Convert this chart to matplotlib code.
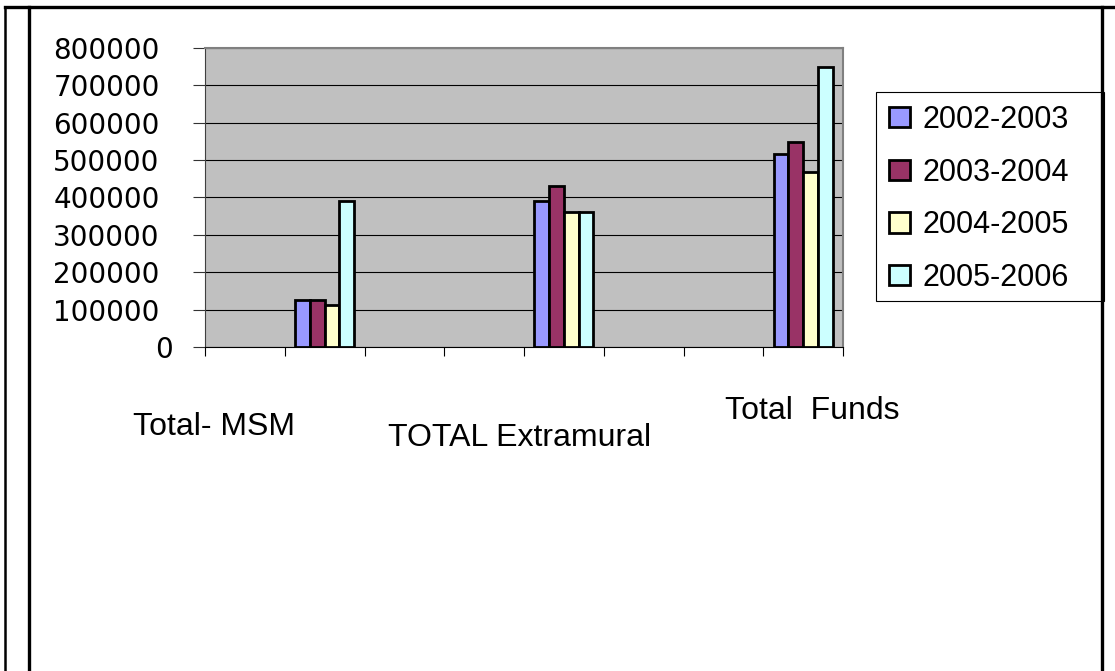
import numpy as np
import matplotlib
matplotlib.use("Agg")
import matplotlib.pyplot as plt
from matplotlib import transforms
from matplotlib.patches import Rectangle, Patch
from matplotlib.lines import Line2D

# ---- data ----
categories = ["Total- MSM", "TOTAL Extramural", "Total  Funds"]
series_names = ["2002-2003", "2003-2004", "2004-2005", "2005-2006"]
v_2002_2003 = [127000, 390000, 517000]
v_2003_2004 = [127000, 430000, 549000]
v_2004_2005 = [113000, 362000, 468000]
v_2005_2006 = [390000, 362000, 750000]
series_values = [v_2002_2003, v_2003_2004, v_2004_2005, v_2005_2006]
y_ticks = [0, 100000, 200000, 300000, 400000, 500000, 600000, 700000, 800000]
y_tick_labels = [str(v) for v in y_ticks]

# ---- style ----
colors = ["#9999FF", "#993366", "#FFFFCC", "#CCFFFF"]
W, H = 1115, 671
def fx(px):
    return px / W
def fy(py):
    return 1 - py / H

fig = plt.figure(figsize=(W / 100, H / 100), dpi=100)
fig.patch.set_facecolor("white")

ax = fig.add_axes([fx(205), fy(347), (843 - 205) / W, (347 - 48) / H])
ax.set_facecolor("#C0C0C0")

n_slots = 8
slots = np.array([1, 4, 7])
bw = 0.185
for i, (name, vals) in enumerate(zip(series_names, series_values)):
    ax.bar(slots + (i - 1.5) * bw, vals, bw, color=colors[i], edgecolor="black",
           linewidth=2.0, zorder=3, label=name)

ax.set_xlim(-0.5, n_slots - 0.5)
ax.set_ylim(0, 800000)
ax.set_xticks(np.arange(-0.5, n_slots, 1.0))
ax.set_xticklabels([])
ax.set_yticks(y_ticks)
ax.set_yticklabels(y_tick_labels, fontfamily="DejaVu Sans", fontsize=20)
ax.tick_params(axis="y", length=8.6, width=0.8, color="#333333", pad=24)
ax.tick_params(axis="x", length=6.5, width=0.8, color="black", direction="out")
ax.yaxis.grid(True, color="black", linewidth=0.8)
ax.set_axisbelow(True)
for s in ["top", "right"]:
    ax.spines[s].set_color("#808080")
    ax.spines[s].set_linewidth(1.5)
ax.spines["left"].set_color("#404040")
ax.spines["left"].set_linewidth(0.8)
ax.spines["bottom"].set_color("black")
ax.spines["bottom"].set_linewidth(0.8)

# shift the "0" label slightly right as in the reference
lab0 = ax.get_yticklabels()[0]
lab0.set_transform(lab0.get_transform() + transforms.ScaledTranslation(13 / 100, 0, fig.dpi_scale_trans))

# category labels
blend = transforms.blended_transform_factory(ax.transData, fig.transFigure)
label_dx = [-1.387, -0.55, 0.12]
label_py = [427, 438, 411]
for cat, s, dx, py in zip(categories, slots, label_dx, label_py):
    ax.text(s + dx, fy(py), cat, transform=blend, ha="center", va="center",
            fontsize=23, fontfamily="Liberation Sans", clip_on=False)

# legend
handles = [Patch(facecolor=c, edgecolor="black", linewidth=2.0) for c in colors]
leg = fig.legend(handles, series_names, loc="upper left",
                 bbox_to_anchor=(fx(889), fy(105)), frameon=False,
                 prop={"family": "Liberation Sans", "size": 22},
                 handlelength=0.69, handleheight=0.65, handletextpad=0.39,
                 borderpad=0, borderaxespad=0, labelspacing=0.74)
fig.add_artist(Rectangle((fx(876), fy(301)), (1104 - 876) / W, (301 - 92) / H,
                         transform=fig.transFigure, fill=False,
                         edgecolor="black", linewidth=0.8))

# outer frame lines
fig.add_artist(Line2D([fx(5), fx(1115)], [fy(7), fy(7)], transform=fig.transFigure,
                      color="black", linewidth=2.4))
fig.add_artist(Line2D([fx(5), fx(5)], [fy(7), fy(671)], transform=fig.transFigure,
                      color="black", linewidth=1.8))
fig.add_artist(Line2D([fx(29), fx(29)], [fy(7), fy(671)], transform=fig.transFigure,
                      color="black", linewidth=2.4))
fig.add_artist(Line2D([fx(1102), fx(1102)], [fy(7), fy(671)], transform=fig.transFigure,
                      color="black", linewidth=2.4))

fig.savefig("out.png", dpi=100)
